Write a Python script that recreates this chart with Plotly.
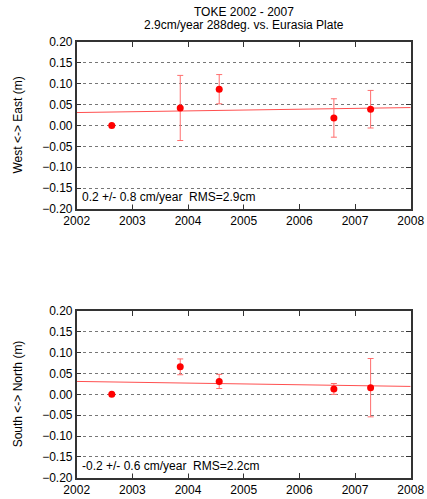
import plotly.graph_objects as go

# ---- data ----
epochs = [2002.63, 2003.86, 2004.56, 2006.62, 2007.28]
east = [0.000, 0.042, 0.087, 0.018, 0.039]
east_err = [0.0, 0.078, 0.035, 0.046, 0.045]
north = [0.000, 0.066, 0.031, 0.013, 0.016]
north_err = [0.0, 0.019, 0.017, 0.013, 0.070]
trend_years = [2002.0, 2008.0]
east_trend = [0.031, 0.043]
north_trend = [0.031, 0.019]
ytick_vals = [-0.20, -0.15, -0.10, -0.05, 0.00, 0.05, 0.10, 0.15, 0.20]
xtick_vals = [2002, 2003, 2004, 2005, 2006, 2007, 2008]
title1 = "TOKE 2002 - 2007"
title2 = "2.9cm/year 288deg. vs. Eurasia Plate"
east_label = "West <-> East (m)"
north_label = "South <-> North (m)"
east_note = "0.2 +/- 0.8 cm/year  RMS=2.9cm"
north_note = "-0.2 +/- 0.6 cm/year  RMS=2.2cm"

W, H = 427, 499


def px_x(p):
    return p / W


def px_y(p):
    return 1 - p / H


FONT = "Liberation Sans, Arial, sans-serif"
FS = 12
x0, x1 = px_x(76.7), px_x(410.7)
top_dom = [px_y(209), px_y(42)]
bot_dom = [px_y(477.7), px_y(311)]

fig = go.Figure()

err_color = "#ff6e6e"
pt_color = "#ff0000"
line_color = "#ff5050"

for (vals, errs, trend, xa, ya) in [
    (east, east_err, east_trend, "x", "y"),
    (north, north_err, north_trend, "x2", "y2"),
]:
    fig.add_trace(go.Scatter(x=trend_years, y=trend, mode="lines",
                             line=dict(color=line_color, width=1),
                             xaxis=xa, yaxis=ya, showlegend=False))
    fig.add_trace(go.Scatter(x=epochs, y=vals, mode="markers",
                             marker=dict(color=pt_color, size=7),
                             error_y=dict(type="data", array=errs, visible=True,
                                          color=err_color, thickness=1, width=3),
                             xaxis=xa, yaxis=ya, showlegend=False))

axis_common = dict(
    showline=True, linecolor="#333333", linewidth=1.5, mirror="ticks",
    ticks="inside", ticklen=5, tickcolor="#333333", tickwidth=1.2,
    zeroline=False, automargin=False,
    tickfont=dict(family=FONT, size=FS, color="black"),
)

xcommon = dict(axis_common, range=[2002, 2008], tickvals=xtick_vals,
               showgrid=False, domain=[x0, x1])
ycommon = dict(axis_common, range=[-0.2, 0.2], tickvals=ytick_vals,
               tickformat=".2f", showgrid=True, gridcolor="#777777",
               griddash="dot", gridwidth=1)

fig.update_layout(
    template="none",
    width=W, height=H,
    margin=dict(l=0, r=0, t=0, b=0),
    paper_bgcolor="white", plot_bgcolor="white",
    xaxis=dict(xcommon, anchor="y"),
    yaxis=dict(ycommon, domain=top_dom, anchor="x"),
    xaxis2=dict(xcommon, anchor="y2"),
    yaxis2=dict(ycommon, domain=bot_dom, anchor="x2"),
    font=dict(family=FONT, size=FS, color="black"),
)

ann = []
ann.append(dict(text=title1, x=(x0 + x1) / 2, y=px_y(12.3),
                xref="paper", yref="paper", xanchor="center", yanchor="middle",
                showarrow=False, font=dict(family=FONT, size=FS)))
ann.append(dict(text=title2, x=(x0 + x1) / 2, y=px_y(24.7),
                xref="paper", yref="paper", xanchor="center", yanchor="middle",
                showarrow=False, font=dict(family=FONT, size=FS)))
ann.append(dict(text=east_label, x=px_x(18), y=sum(top_dom) / 2, xref="paper",
                yref="paper", textangle=-90, showarrow=False,
                xanchor="center", yanchor="middle",
                font=dict(family=FONT, size=FS)))
ann.append(dict(text=north_label, x=px_x(18), y=sum(bot_dom) / 2, xref="paper",
                yref="paper", textangle=-90, showarrow=False,
                xanchor="center", yanchor="middle",
                font=dict(family=FONT, size=FS)))
ann.append(dict(text=east_note, x=2002.08, y=-0.172, xref="x", yref="y",
                xanchor="left", yanchor="middle", showarrow=False,
                bgcolor="white", borderpad=0, font=dict(family=FONT, size=FS)))
ann.append(dict(text=north_note, x=2002.08, y=-0.172, xref="x2", yref="y2",
                xanchor="left", yanchor="middle", showarrow=False,
                bgcolor="white", borderpad=0, font=dict(family=FONT, size=FS)))
fig.update_layout(annotations=ann)

fig.write_html(
    "out.html",
    config={"displayModeBar": False},
    post_script="document.body.style.margin='0';document.body.style.overflow='hidden';",
)
